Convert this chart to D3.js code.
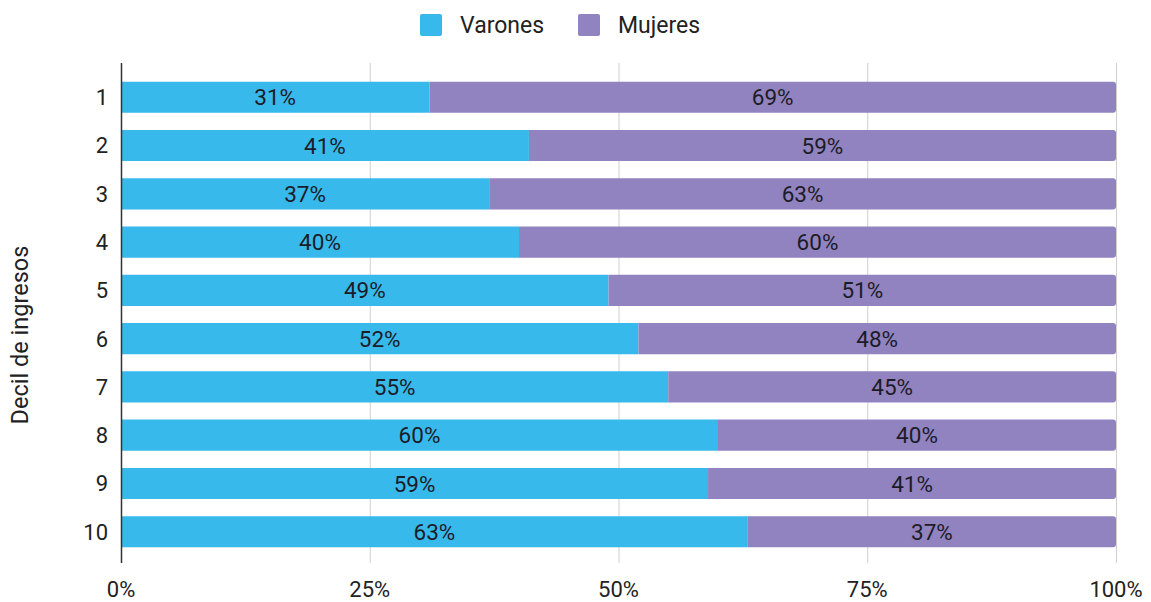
<!DOCTYPE html>
<meta charset='utf-8'>
<head>
  <style>
    body { margin: 0; background: #fff; }
    text { font-family: Roboto, sans-serif; fill: #222; }
    .grid line { stroke: #cfcfcf; stroke-width: 1; }
  </style>
</head>
<body>
<script src='https://d3js.org/d3.v7.min.js'></script>
<script>

var deciles = ['1', '2', '3', '4', '5', '6', '7', '8', '9', '10'];
var varones = [31, 41, 37, 40, 49, 52, 55, 60, 59, 63];
var mujeres = [69, 59, 63, 60, 51, 48, 45, 40, 41, 37];
var seriesNames = ['Varones', 'Mujeres'];
var colors = ['#38b9eb', '#9183bf'];
var tickValues = [0, 25, 50, 75, 100];

var W = 1151, H = 602;
var margin = {top: 63, right: 35, bottom: 39, left: 121};
var width = W - margin.left - margin.right,
    height = H - margin.top - margin.bottom;

var data = deciles.map((d, i) => ({decil: d, Varones: varones[i], Mujeres: mujeres[i]}));
var stacked = d3.stack().keys(seriesNames)(data);

var x = d3.scaleLinear().domain([0, 100]).range([0, width]);
var y = d3.scaleBand().domain(deciles).range([10, height - 7]).paddingInner(0.355).paddingOuter(0.18);

var svg = d3.select('body').append('svg')
    .attr('width', W)
    .attr('height', H);

var g = svg.append('g')
    .attr('transform', 'translate(' + margin.left + ',' + margin.top + ')');

// gridlines
g.append('g')
    .attr('class', 'grid')
  .selectAll('line')
    .data(tickValues.slice(1))
  .enter().append('line')
    .attr('x1', d => x(d) + 0.5)
    .attr('x2', d => x(d) + 0.5)
    .attr('y1', 0)
    .attr('y2', height);

// bars (last series gets rounded right end)
stacked.forEach((layer, si) => {
  g.append('g')
    .selectAll('path')
      .data(layer)
    .enter().append('path')
      .attr('fill', colors[si])
      .attr('d', d => {
        var x0 = x(d[0]), x1 = x(d[1]), y0 = y(d.data.decil), h = y.bandwidth();
        var r = si === stacked.length - 1 ? 3 : 0;
        return 'M' + x0 + ',' + y0 +
          'H' + (x1 - r) +
          (r ? 'A' + r + ',' + r + ' 0 0 1 ' + x1 + ',' + (y0 + r) : '') +
          'V' + (y0 + h - r) +
          (r ? 'A' + r + ',' + r + ' 0 0 1 ' + (x1 - r) + ',' + (y0 + h) : '') +
          'H' + x0 + 'Z';
      });

  g.append('g')
    .selectAll('text')
      .data(layer)
    .enter().append('text')
      .attr('x', d => (x(d[0]) + x(d[1])) / 2)
      .attr('y', d => y(d.data.decil) + y.bandwidth() / 2)
      .attr('dy', '0.36em')
      .attr('text-anchor', 'middle')
      .style('font-size', '22.5px')
      .style('fill', '#1c1c28')
      .text(d => (d[1] - d[0]) + '%');
});

// y axis line
g.append('line')
    .attr('x1', 0.5).attr('x2', 0.5)
    .attr('y1', 0).attr('y2', height)
    .attr('stroke', '#333')
    .attr('stroke-width', 1.5);

// y tick labels
g.append('g')
  .selectAll('text')
    .data(deciles)
  .enter().append('text')
    .attr('x', -13)
    .attr('y', d => y(d) + y.bandwidth() / 2)
    .attr('dy', '0.36em')
    .attr('text-anchor', 'end')
    .style('font-size', '22px')
    .text(d => d);

// x tick labels
g.append('g')
  .selectAll('text')
    .data(tickValues)
  .enter().append('text')
    .attr('x', d => x(d))
    .attr('y', height + 26)
    .attr('dy', '0.36em')
    .attr('text-anchor', 'middle')
    .style('font-size', '22px')
    .text(d => d + '%');

// y axis title
svg.append('text')
    .attr('transform', 'translate(20,' + 335 + ') rotate(-90)')
    .attr('text-anchor', 'middle')
    .attr('dy', '0.36em')
    .style('font-size', '23.5px')
    .text('Decil de ingresos');

// legend
var legendX = [420, 578];
var legend = svg.append('g')
  .selectAll('g')
    .data(seriesNames)
  .enter().append('g')
    .attr('transform', (d, i) => 'translate(' + legendX[i] + ',14)');

legend.append('rect')
    .attr('width', 22).attr('height', 22)
    .attr('rx', 2)
    .attr('fill', (d, i) => colors[i]);

legend.append('text')
    .attr('x', 40)
    .attr('y', 11)
    .attr('dy', '0.36em')
    .style('font-size', '23px')
    .text(d => d);

</script>
</body>
